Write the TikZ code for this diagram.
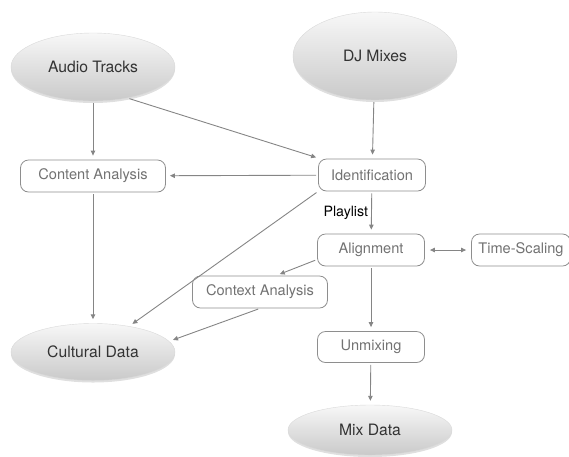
\documentclass[tikz,border=0pt]{standalone}
\usepackage{fontspec}
\setmainfont{TeX Gyre Heros}
\usetikzlibrary{shapes.geometric, shadows, arrows.meta}
\definecolor{linegray}{HTML}{858585}
\definecolor{boxgray}{HTML}{8E8E8E}
\definecolor{boxtext}{HTML}{727272}
\definecolor{darktext}{HTML}{333333}

\begin{document}
\begin{tikzpicture}[x=1pt, y=-1pt, >={Triangle[length=5pt, width=4.5pt]},
    blob/.style={ellipse, draw=gray!30, top color=gray!6, bottom color=gray!42,
        drop shadow={opacity=0.25, shadow xshift=0pt, shadow yshift=-2pt},
        text=darktext, font=\fontsize{15.7}{18}\selectfont, inner sep=0pt},
    stage/.style={rectangle, rounded corners=8pt, draw=boxgray, line width=0.8pt,
        text=boxtext, font=\fontsize{14.6}{16}\selectfont, minimum height=32pt, inner sep=0pt},
    flow/.style={->, draw=linegray, line width=0.9pt, shorten >=4pt, shorten <=2pt}]
\useasboundingbox (0,0) rectangle (569,456);
% sources
\node[blob, minimum width=164pt, minimum height=68pt] (audio) at (93,67) {Audio Tracks};
\node[blob, minimum width=164pt, minimum height=88pt] (dj) at (375,56) {DJ Mixes};
% processing steps
\node[stage, minimum width=145pt] (content) at (93,176) {Content Analysis};
\node[stage, minimum width=107pt] (ident) at (372,175) {Identification};
\node[stage, minimum width=107pt] (align) at (371,250) {Alignment};
\node[stage, minimum width=99pt] (timescale) at (521,250) {Time-Scaling};
\node[stage, minimum width=135pt] (context) at (260,292) {Context Analysis};
\node[stage, minimum width=107pt, minimum height=31pt] (unmix) at (371,347) {Unmixing};
% results
\node[blob, minimum width=164pt, minimum height=57pt] (cultural) at (93,352) {Cultural Data};
\node[blob, minimum width=164pt, minimum height=50pt] (mixdata) at (370,430) {Mix Data};

\draw[flow] (audio) -- (content);
\draw[flow] (audio.318) -- (ident);
\draw[flow] (dj) -- (ident);
\draw[flow] (ident) -- (content);
\draw[flow] (ident.south west) -- (cultural);
\draw[flow] (ident) -- node[left, text=black, font=\fontsize{14.2}{16}\selectfont, inner sep=3pt] {Playlist} (align);
\draw[flow] (content) -- (cultural);
\draw[flow] (align.190) -- ([xshift=16pt]context.north);
\draw[flow] (context.south) -- (cultural.8);
\draw[flow, <->, shorten <=5pt, shorten >=5pt] (align) -- (timescale);
\draw[flow] (align) -- (unmix);
\draw[flow] (unmix) -- (mixdata);
\end{tikzpicture}
\end{document}
